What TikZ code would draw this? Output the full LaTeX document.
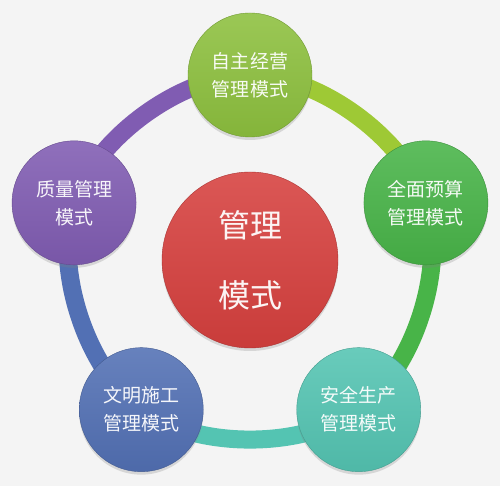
\documentclass[tikz,border=0pt]{standalone}
\usepackage{fontspec}
\newfontfamily\cjk{Noto Sans CJK SC}
\usepackage{tikz}
\usetikzlibrary{shadows,backgrounds}
\definecolor{bgcol}{HTML}{F4F4F4}
\definecolor{ctop}{HTML}{8DC03E}
\definecolor{cright}{HTML}{48B448}
\definecolor{cbr}{HTML}{54C4B2}
\definecolor{cbl}{HTML}{5270B4}
\definecolor{cleft}{HTML}{805CB2}
\definecolor{cmid}{HTML}{D6403E}
\tikzset{
  mycircle/.style = {circle, minimum size=124pt, inner sep=0pt, align=center, text=white!94!#1,
    top color=#1!88!white, bottom color=#1!94!black, draw=#1!80!black, line width=0.4pt,
    font=\cjk\fontsize{19}{28}\selectfont,
    drop shadow={opacity=0.25, shadow xshift=0pt, shadow yshift=-3pt}},
  mybig/.style = {mycircle=#1, minimum size=176pt, font=\cjk\fontsize{32}{70}\selectfont},
  myring/.style = {line width=18pt, draw=#1},
  mybend/.style = {bend left=36, looseness=0.8},
}

\begin{document}
\begin{tikzpicture}[x=1pt,y=1pt]
\def\R{185}
\useasboundingbox (-250,-226) rectangle (250,260);
\node[mybig=cmid] (mid) at (0,0) {管理\\模式};
\node[mycircle=ctop] (top) at (90:\R) {自主经营\\管理模式};
\node[mycircle=cright] (right) at (18:\R) {全面预算\\管理模式};
\node[mycircle=cbr] (br) at (-54:\R) {安全生产\\管理模式};
\node[mycircle=cbl] (bl) at (-126:\R) {文明施工\\管理模式};
\node[mycircle=cleft] (left) at (162:\R) {质量管理\\模式};
% ring behind the circles
\begin{scope}[on background layer]
\fill[bgcol] (-250,-226) rectangle (250,260);
\draw[myring=ctop!85!yellow] (top.center) to[mybend] (right.center);
\draw[myring=cright] (right.center) to[mybend] (br.center);
\draw[myring=cbr] (br.center) to[mybend] (bl.center);
\draw[myring=cbl] (bl.center) to[mybend] (left.center);
\draw[myring=cleft] (left.center) to[mybend] (top.center);
\end{scope}
\end{tikzpicture}
\end{document}
